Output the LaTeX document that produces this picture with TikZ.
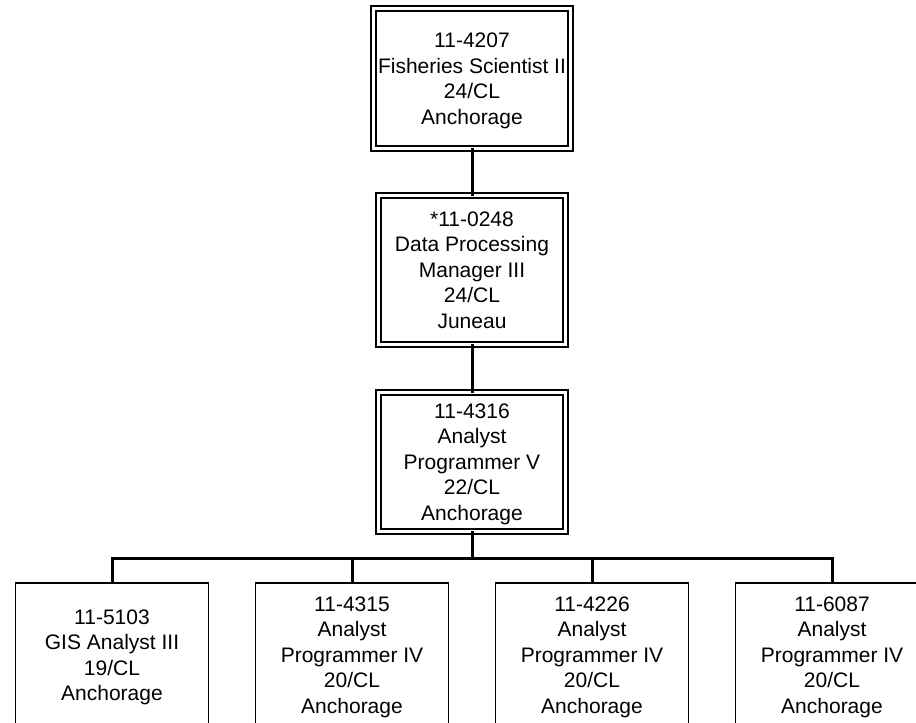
\documentclass[tikz,border=0pt]{standalone}
\usepackage{fontspec}
\setmainfont{Liberation Sans}
\begin{document}
\begin{tikzpicture}[x=1pt,y=-1pt,
  txt/.style={align=center,font=\fontsize{21}{25.5}\selectfont,inner sep=0pt,text depth=0pt},
  dbox/.style={txt,draw,double,double distance=3.5pt,line width=1.5pt},
  sbox/.style={txt,draw,line width=1.5pt,minimum width=193pt,minimum height=144pt},
  conn/.style={line width=3pt,line cap=rect}]
\useasboundingbox (0,0) rectangle (916,723);
\clip (0,0) rectangle (916,723);
\fill[white] (0,0) rectangle (916,723);
\node[dbox,minimum width=197pt,minimum height=140pt] (top) at (472,78.5)
  {11-4207\\Fisheries Scientist II\\24/CL\\Anchorage};
\node[dbox,minimum width=187pt,minimum height=149pt] (mid) at (472,270)
  {*11-0248\\Data Processing\\Manager III\\24/CL\\Juneau};
\node[dbox,minimum width=187pt,minimum height=139pt] (low) at (472,462)
  {11-4316\\Analyst\\Programmer V\\22/CL\\Anchorage};
\node[sbox] (c1) at (112,655) {11-5103\\GIS Analyst III\\19/CL\\Anchorage};
\node[sbox] (c2) at (352,655) {11-4315\\Analyst\\Programmer IV\\20/CL\\Anchorage};
\node[sbox] (c3) at (592,655) {11-4226\\Analyst\\Programmer IV\\20/CL\\Anchorage};
\node[sbox] (c4) at (832,655) {11-6087\\Analyst\\Programmer IV\\20/CL\\Anchorage};
\coordinate (bus) at (472,558);
\draw[conn] (top.south) -- (mid.north);
\draw[conn] (mid.south) -- (low.north);
\draw[conn] (low.south) -- (bus);
\draw[conn,line cap=butt] (c1.north) |- (bus) -| (c4.north);
\draw[conn,line cap=butt] (c2.north) -- (c2.north |- bus);
\draw[conn,line cap=butt] (c3.north) -- (c3.north |- bus);
\end{tikzpicture}
\end{document}
